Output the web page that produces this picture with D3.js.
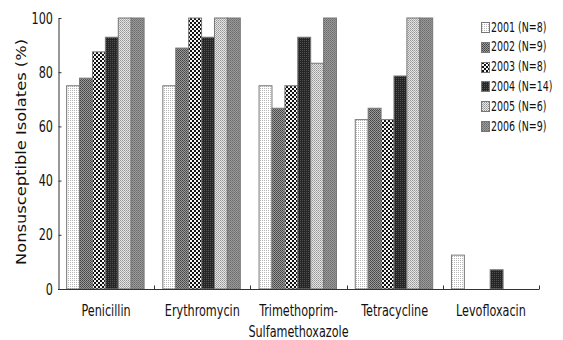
<!DOCTYPE html>
<html>
<head>
<meta charset="utf-8">
<script src="https://cdn.jsdelivr.net/npm/d3@7"></script>
<style>
html,body{margin:0;padding:0;background:#fff;}
svg{display:block;}
.nar{font-family:"DejaVu Sans Condensed","DejaVu Sans",sans-serif;font-stretch:condensed;}
</style>
</head>
<body>
<svg id="chart" width="563" height="340"></svg>
<script>
const categories = ["Penicillin", "Erythromycin", "Trimethoprim-\nSulfamethoxazole", "Tetracycline", "Levofloxacin"];
const seriesLabels = ["2001 (N=8)", "2002 (N=9)", "2003 (N=8)", "2004 (N=14)", "2005 (N=6)", "2006 (N=9)"];
const s2001 = [75, 75, 75, 62.5, 12.5];
const s2002 = [77.8, 88.9, 66.7, 66.7, 0];
const s2003 = [87.5, 100, 75, 62.5, 0];
const s2004 = [92.9, 92.9, 92.9, 78.6, 7.1];
const s2005 = [100, 100, 83.3, 100, 0];
const s2006 = [100, 100, 100, 100, 0];
const series = [s2001, s2002, s2003, s2004, s2005, s2006];
const yTicks = [0, 20, 40, 60, 80, 100];
const yLabel = "Nonsusceptible Isolates (%)";
const SQ = 0.78; // horizontal squeeze of text

const svg = d3.select("#chart");
const defs = svg.append("defs");

// pattern fills
const pats = [
  {size:2, bg:"#ffffff", cells:[[0,0,1,"#b8b8b8"]]},
  {size:2, bg:"#9a9a9a", cells:[[0,0,1,"#444"],[1,1,1,"#555"]]},
  {size:4, bg:"#f4f4f4", cells:[[0,0,2,"#111"],[2,2,2,"#111"]]},
  {size:2, bg:"#262626", cells:[[0,0,1,"#505050"]]},
  {size:2, bg:"#e4e4e4", cells:[[0,0,1,"#969696"],[1,1,1,"#b0b0b0"]]},
  {size:2, bg:"#9a9a9a", cells:[[0,0,1,"#6a6a6a"],[1,1,1,"#7a7a7a"]]}
];
pats.forEach((p, i) => {
  const pt = defs.append("pattern").attr("id", "p" + i)
    .attr("patternUnits", "userSpaceOnUse")
    .attr("width", p.size).attr("height", p.size);
  pt.append("rect").attr("width", p.size).attr("height", p.size).attr("fill", p.bg);
  p.cells.forEach(c => pt.append("rect").attr("x", c[0]).attr("y", c[1])
    .attr("width", c[2]).attr("height", c[2]).attr("fill", c[3]));
});

const x0 = d3.scaleBand().domain(d3.range(categories.length)).range([58, 539]).padding(0);
const bw = x0.bandwidth();
const x1 = d3.scaleBand().domain(d3.range(series.length)).range([bw * 0.09, bw * 0.895]).padding(0);
const y = d3.scaleLinear().domain([0, 100]).range([289, 18]);

// bars
const g = svg.append("g");
categories.forEach((c, ci) => {
  series.forEach((s, si) => {
    const v = s[ci];
    if (v <= 0) return;
    g.append("rect")
      .attr("x", x0(ci) + x1(si))
      .attr("y", y(v))
      .attr("width", x1.bandwidth())
      .attr("height", y(0) - y(v))
      .attr("fill", "url(#p" + si + ")")
      .attr("stroke", "#777")
      .attr("stroke-width", 1);
  });
});

// y axis
const yAxis = d3.axisLeft(y).tickValues(yTicks).tickSizeInner(-3).tickSizeOuter(0).tickPadding(5);
const ya = svg.append("g").attr("transform", "translate(58.5,0)").call(yAxis);
ya.selectAll("path,line").attr("stroke", "#333");
ya.selectAll("text").attr("class", "nar").attr("font-size", 16).attr("fill", "#111")
  .attr("x", null).attr("transform", "translate(-5.5,0) scale(" + SQ + ",1)");

// x axis
const xa = svg.append("g").attr("transform", "translate(0,289.5)");
xa.append("line").attr("x1", 58).attr("x2", 539).attr("stroke", "#333");
categories.forEach((c, ci) => {
  const bx = x0(ci) + bw;
  xa.append("line").attr("x1", Math.round(bx) + 0.5).attr("x2", Math.round(bx) + 0.5)
    .attr("y1", 0).attr("y2", -4).attr("stroke", "#333");
  const lines = c.split("\n");
  const t = xa.append("text").attr("class", "nar").attr("font-size", 16).attr("fill", "#111")
    .attr("text-anchor", "middle")
    .attr("transform", "translate(" + (x0(ci) + bw / 2) + ",0) scale(" + SQ + ",1)");
  lines.forEach((l, li) => {
    t.append("tspan").attr("x", 0).attr("y", 27 + li * 21).text(l);
  });
});

// y label
svg.append("text")
  .attr("transform", "translate(21,152) rotate(-90) scale(1,0.85)")
  .attr("text-anchor", "middle")
  .attr("dy", "0.36em")
  .attr("font-family", "DejaVu Sans, sans-serif")
  .attr("font-size", 16.3)
  .attr("fill", "#111")
  .text(yLabel);

// legend
const lg = svg.append("g");
seriesLabels.forEach((l, i) => {
  const cy = 27 + i * 19.8;
  lg.append("rect").attr("x", 481.5).attr("y", Math.round(cy - 5) + 0.5).attr("width", 8).attr("height", 10)
    .attr("fill", "url(#p" + i + ")").attr("stroke", "#777");
  lg.append("text").attr("class", "nar")
    .attr("transform", "translate(491," + (cy + 4.5) + ") scale(" + SQ + ",1)")
    .attr("font-size", 13.5).attr("fill", "#111").text(l);
});
</script>
</body>
</html>
